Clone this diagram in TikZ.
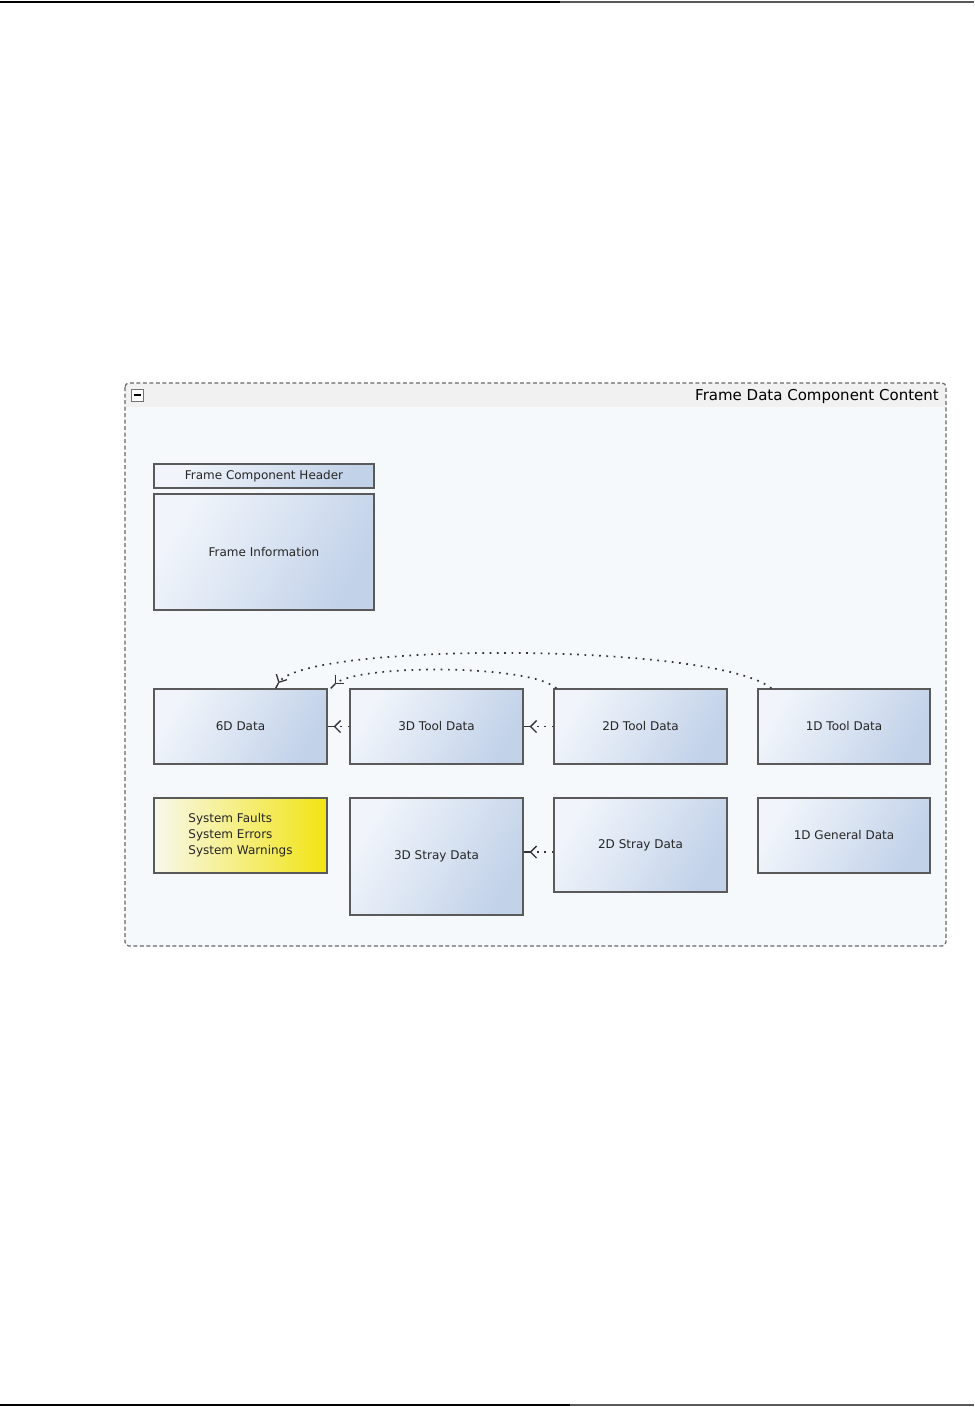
\documentclass[tikz,border=0pt]{standalone}
\usepackage{fontspec}
\setmainfont{DejaVu Sans}
\usetikzlibrary{arrows.meta}
\definecolor{boxa}{HTML}{F1F5FB}
\definecolor{boxb}{HTML}{C2D2E9}
\definecolor{sysa}{HTML}{F8F8EC}
\definecolor{sysb}{HTML}{F2E412}
\definecolor{edge}{HTML}{5A5A5A}
\definecolor{panel}{HTML}{F6F9FC}
\definecolor{band}{HTML}{F1F1F1}
\begin{document}
\begin{tikzpicture}[x=1pt, y=-1pt,
  box/.style={draw=edge, line width=1.3pt, left color=boxa, right color=boxb, shading angle=60, inner sep=0pt, text=black!85, font=\fontsize{12}{14}\selectfont},
  dep/.style={-{Straight Barb[length=6pt, width=12pt, line width=1.3pt]Rectangle[length=6pt, width=1.4pt, line width=0pt]}, line width=1.7pt, dash pattern=on 1.7pt off 5.6pt, draw=black!80}]
\useasboundingbox (0,0) rectangle (974,1407);
\draw[line width=2.5pt] (0,2) -- (560,2);
\draw[line width=2.5pt, black!65] (560,2) -- (974,2);
\draw[line width=2.5pt] (0,1405) -- (570,1405);
\draw[line width=2.5pt, black!65] (570,1405) -- (974,1405);
% container
\fill[panel, rounded corners=4pt] (125,383) rectangle (946,946);
\fill[band] (126,384) rectangle (945,407);
\draw[draw=black!60, line width=1.2pt, dash pattern=on 4pt off 2.5pt, rounded corners=4pt] (125,383) rectangle (946,946);
\node[draw=black!55, fill=white, minimum size=12pt, inner sep=0pt] (m) at (137,395) {};
\draw[line width=2pt] ([xshift=-3.5pt]m.center) -- ([xshift=3.5pt]m.center);
\node[anchor=east, inner sep=0pt, font=\fontsize{15}{18}\selectfont] (title) at (939,396) {Frame Data Component Content};
% boxes
\node[box, minimum width=220pt, minimum height=24pt] (hdr) at (264,476) {Frame Component Header};
\node[box, minimum width=220pt, minimum height=116pt] (info) at (264,552) {Frame Information};
\node[box, minimum width=173pt, minimum height=75pt] (d6) at (240.5,726.5) {6D Data};
\node[box, minimum width=173pt, minimum height=75pt] (t3) at (436.5,726.5) {3D Tool Data};
\node[box, minimum width=173pt, minimum height=75pt] (t2) at (640.5,726.5) {2D Tool Data};
\node[box, minimum width=172pt, minimum height=75pt] (t1) at (844,726.5) {1D Tool Data};
\node[box, left color=sysa, right color=sysb, align=left, font=\fontsize{12}{16}\selectfont, minimum width=173pt, minimum height=75pt] (sys) at (240.5,835.5) {System Faults\\System Errors\\System Warnings};
\node[box, minimum width=173pt, minimum height=117pt] (s3) at (436.5,856.5) {3D Stray Data};
\node[box, minimum width=173pt, minimum height=94pt] (s2) at (640.5,845) {2D Stray Data};
\node[box, minimum width=172pt, minimum height=75pt] (g1) at (844,835.5) {1D General Data};
% dependencies
\draw[dep] (t3.west) -- (d6.east);
\draw[dep] (t2.west) -- (t3.east);
\draw[dep] ([yshift=-7pt]s2.west) -- ([yshift=-7pt]s2.west -| s3.east);
\draw[dep] ([xshift=3pt]t2.north west) .. controls (530,664) and (355,664) .. ([xshift=3pt]d6.north east);
\draw[dep] ([xshift=14pt]t1.north west) .. controls (715,642) and (300,642) .. ([xshift=-52pt]d6.north east);
\end{tikzpicture}
\end{document}
